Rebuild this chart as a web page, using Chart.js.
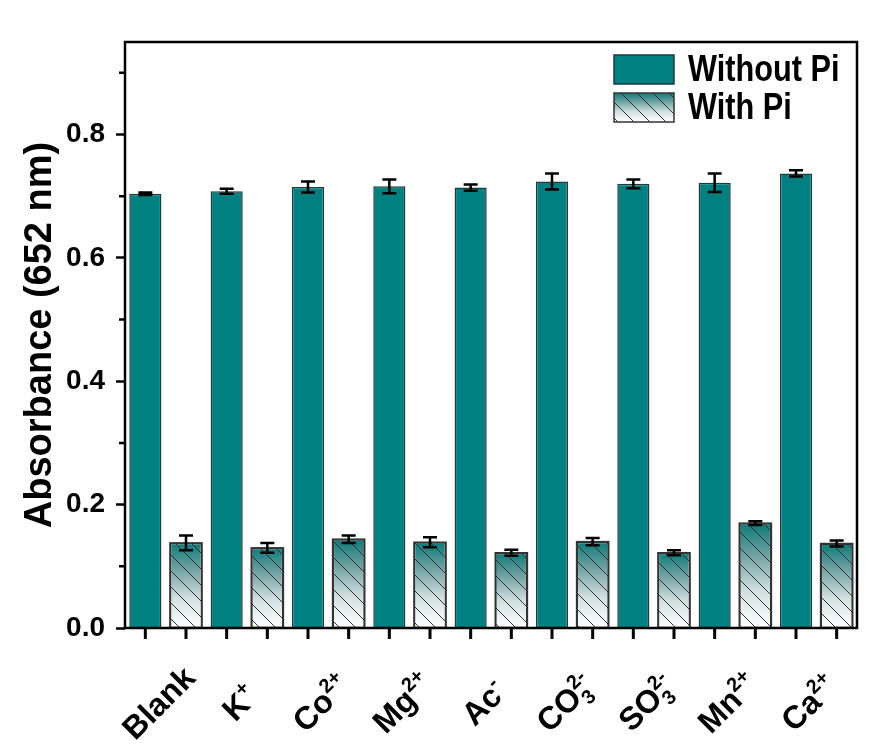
<!DOCTYPE html>
<html>
<head>
<meta charset="utf-8">
<title>Absorbance (652 nm) with and without Pi</title>
<script src="https://cdn.jsdelivr.net/npm/chart.js@4.4.1/dist/chart.umd.min.js"></script>
<style>
  html, body { margin: 0; padding: 0; background: #fff; }
  #wrap { width: 872px; height: 756px; }
</style>
</head>
<body>
<div id="wrap"><canvas id="chart" width="872" height="756"></canvas></div>
<script>
// category names, split in base text / subscript / superscript
var categories = ['Blank', 'K', 'Co', 'Mg', 'Ac', 'CO', 'SO', 'Mn', 'Ca'];
var subs = ['', '', '', '', '', '3', '3', '', ''];
var sups = ['', '+', '2+', '2+', '-', '2-', '2-', '2+', '2+'];

var withoutPi    = [0.704, 0.708, 0.715, 0.716, 0.714, 0.724, 0.720, 0.722, 0.737];
var withoutPiErr = [0.002, 0.004, 0.009, 0.011, 0.005, 0.013, 0.007, 0.015, 0.005];
var withPi       = [0.138, 0.130, 0.144, 0.139, 0.122, 0.140, 0.122, 0.170, 0.137];
var withPiErr    = [0.012, 0.008, 0.006, 0.008, 0.005, 0.006, 0.004, 0.003, 0.005];

var yTicks = [0, 0.2, 0.4, 0.6, 0.8];
var yMinorTicks = [0.1, 0.3, 0.5, 0.7, 0.9];

var TEAL = '#008080';
var FONT = '"Liberation Sans", Arial, sans-serif';

var supMap = { '0': '\u2070', '1': '\u00b9', '2': '\u00b2', '3': '\u00b3', '+': '\u207a', '-': '\u207b' };
var subMap = { '3': '\u2083' };
var labels = categories.map(function(c, i) {
  var s = c;
  subs[i].split('').forEach(function(ch) { s += subMap[ch] || ch; });
  sups[i].split('').forEach(function(ch) { s += supMap[ch] || ch; });
  return s;
});

function fadeFill(ctx, top, bottom) {
  var g = ctx.createLinearGradient(0, top, 0, bottom);
  g.addColorStop(0, '#0b7a7a');
  g.addColorStop(0.3, '#6fa0a1');
  g.addColorStop(0.65, '#d3e0e0');
  g.addColorStop(1, '#ffffff');
  return g;
}

function piGradient(c) {
  var chart = c.chart, ys = chart.scales.y;
  if (!ys || !chart.chartArea || !c.parsed) return TEAL;
  return fadeFill(chart.ctx, ys.getPixelForValue(c.parsed.y), ys.getPixelForValue(0));
}

function hatch(ctx, x, y, w, h) {
  ctx.save();
  ctx.beginPath();
  ctx.rect(x, y, w, h);
  ctx.clip();
  ctx.strokeStyle = '#333';
  ctx.lineWidth = 1;
  ctx.beginPath();
  // "\" lines, phase tied to the canvas
  for (var c = Math.floor((x - y - h) / 16) * 16; c < x + w - y; c += 16) {
    ctx.moveTo(y + c, y);
    ctx.lineTo(y + h + c, y + h);
  }
  ctx.stroke();
  ctx.restore();
}

var hatchPlugin = {
  id: 'hatch',
  afterDatasetDraw: function(chart, args) {
    if (args.index !== 1) return;
    var ctx = chart.ctx;
    args.meta.data.forEach(function(bar) {
      var p = bar.getProps(['x', 'y', 'base', 'width'], true);
      var left = p.x - p.width / 2;
      hatch(ctx, left, p.y, p.width, p.base - p.y);
      ctx.save();
      ctx.strokeStyle = '#333';
      ctx.lineWidth = 1.5;
      ctx.strokeRect(left, p.y, p.width, p.base - p.y);
      ctx.restore();
    });
  }
};

var errorPlugin = {
  id: 'errors',
  afterDatasetsDraw: function(chart) {
    var ctx = chart.ctx, ys = chart.scales.y;
    var errs = [withoutPiErr, withPiErr];
    ctx.save();
    ctx.strokeStyle = '#000';
    ctx.lineWidth = 2.5;
    chart.data.datasets.forEach(function(ds, di) {
      chart.getDatasetMeta(di).data.forEach(function(bar, i) {
        var x = bar.x;
        var hi = ys.getPixelForValue(ds.data[i] + errs[di][i]);
        var lo = ys.getPixelForValue(ds.data[i] - errs[di][i]);
        ctx.beginPath();
        ctx.moveTo(x, hi); ctx.lineTo(x, lo);
        ctx.moveTo(x - 7, hi); ctx.lineTo(x + 7, hi);
        ctx.moveTo(x - 7, lo); ctx.lineTo(x + 7, lo);
        ctx.stroke();
      });
    });
    ctx.restore();
  }
};

function drawRichLabel(ctx, i, x, y) {
  var mainFont = 'bold 32px ' + FONT, smallFont = 'bold 20px ' + FONT;
  ctx.font = mainFont;
  var wMain = ctx.measureText(categories[i]).width;
  ctx.font = smallFont;
  var wScript = Math.max(ctx.measureText(subs[i]).width, ctx.measureText(sups[i]).width);
  var total = wMain + (wScript ? wScript : 0);
  ctx.save();
  ctx.translate(x, y);
  ctx.rotate(-Math.PI / 4);
  ctx.textAlign = 'left';
  ctx.textBaseline = 'alphabetic';
  ctx.fillStyle = '#000';
  var x0 = -total / 2;
  ctx.font = mainFont;
  ctx.fillText(categories[i], x0, 12);
  ctx.font = smallFont;
  if (sups[i]) ctx.fillText(sups[i], x0 + wMain, -1);
  if (subs[i]) ctx.fillText(subs[i], x0 + wMain, 20);
  ctx.restore();
}

var framePlugin = {
  id: 'frame',
  afterDraw: function(chart) {
    var ctx = chart.ctx, a = chart.chartArea, ys = chart.scales.y, xs = chart.scales.x;
    ctx.save();
    ctx.strokeStyle = '#000';
    ctx.lineWidth = 2.5;
    ctx.strokeRect(a.left, a.top, a.right - a.left, a.bottom - a.top);
    // minor y ticks
    ctx.beginPath();
    yMinorTicks.forEach(function(v) {
      var py = ys.getPixelForValue(v);
      ctx.moveTo(a.left - 6, py); ctx.lineTo(a.left, py);
    });
    ctx.stroke();
    // x ticks under every bar
    ctx.lineWidth = 3;
    ctx.beginPath();
    chart.data.datasets.forEach(function(ds, di) {
      chart.getDatasetMeta(di).data.forEach(function(bar) {
        ctx.moveTo(bar.x, a.bottom); ctx.lineTo(bar.x, a.bottom + 11);
      });
    });
    ctx.stroke();
    ctx.restore();

    categories.forEach(function(c, i) {
      drawRichLabel(ctx, i, xs.getPixelForValue(i) - 8, a.bottom + 74);
    });

    // legend, top right inside the frame
    var sw = 60, sh = 29, lx = a.right - 243, ly = a.top + 13;
    ctx.save();
    ctx.fillStyle = TEAL;
    ctx.fillRect(lx, ly, sw, sh);
    ctx.strokeStyle = '#1e3a3a';
    ctx.lineWidth = 1.5;
    ctx.strokeRect(lx, ly, sw, sh);
    var ly2 = ly + 38;
    ctx.fillStyle = fadeFill(ctx, ly2, ly2 + sh);
    ctx.fillRect(lx, ly2, sw, sh);
    hatch(ctx, lx, ly2, sw, sh);
    ctx.strokeStyle = '#333';
    ctx.strokeRect(lx, ly2, sw, sh);
    ctx.fillStyle = '#000';
    ctx.font = 'bold 37px ' + FONT;
    ctx.textBaseline = 'middle';
    ctx.textAlign = 'left';
    [['Without Pi', ly + sh / 2], ['With Pi', ly2 + sh / 2]].forEach(function(t) {
      ctx.save();
      ctx.translate(lx + 74, t[1] + 1);
      ctx.scale(0.83, 1);
      ctx.fillText(t[0], 0, 0);
      ctx.restore();
    });
    ctx.restore();
  }
};

new Chart(document.getElementById('chart'), {
  type: 'bar',
  data: {
    labels: labels,
    datasets: [{
      label: 'Without Pi',
      data: withoutPi,
      backgroundColor: TEAL,
      borderColor: '#1e3a3a',
      borderWidth: 1.5,
      barPercentage: 0.79,
      categoryPercentage: 1.0
    }, {
      label: 'With Pi',
      data: withPi,
      backgroundColor: piGradient,
      borderColor: '#333',
      borderWidth: 1.5,
      barPercentage: 0.79,
      categoryPercentage: 1.0
    }]
  },
  options: {
    responsive: false,
    animation: false,
    layout: { padding: { top: 42, right: 15, left: 0, bottom: 0 } },
    plugins: { legend: { display: false }, tooltip: { enabled: false } },
    scales: {
      x: {
        grid: { display: false },
        border: { display: false },
        ticks: { display: false },
        afterFit: function(s) { s.height = 128; }
      },
      y: {
        min: 0,
        max: 0.95,
        afterBuildTicks: function(s) { s.ticks = yTicks.map(function(v) { return { value: v }; }); },
        afterFit: function(s) { s.width = 125; },
        border: { display: false },
        grid: { display: true, drawOnChartArea: false, drawTicks: true, tickLength: 9, tickWidth: 2.5, tickColor: '#000' },
        ticks: {
          padding: 11,
          color: '#000',
          font: { family: FONT, size: 28, weight: 'bold' },
          callback: function(v) { return Number(v).toFixed(1); }
        },
        title: {
          display: true,
          text: 'Absorbance (652 nm)',
          color: '#000',
          font: { family: FONT, size: 38, weight: 'bold' },
          padding: { top: 18, bottom: 0 }
        }
      }
    }
  },
  plugins: [hatchPlugin, errorPlugin, framePlugin]
});
</script>
</body>
</html>
